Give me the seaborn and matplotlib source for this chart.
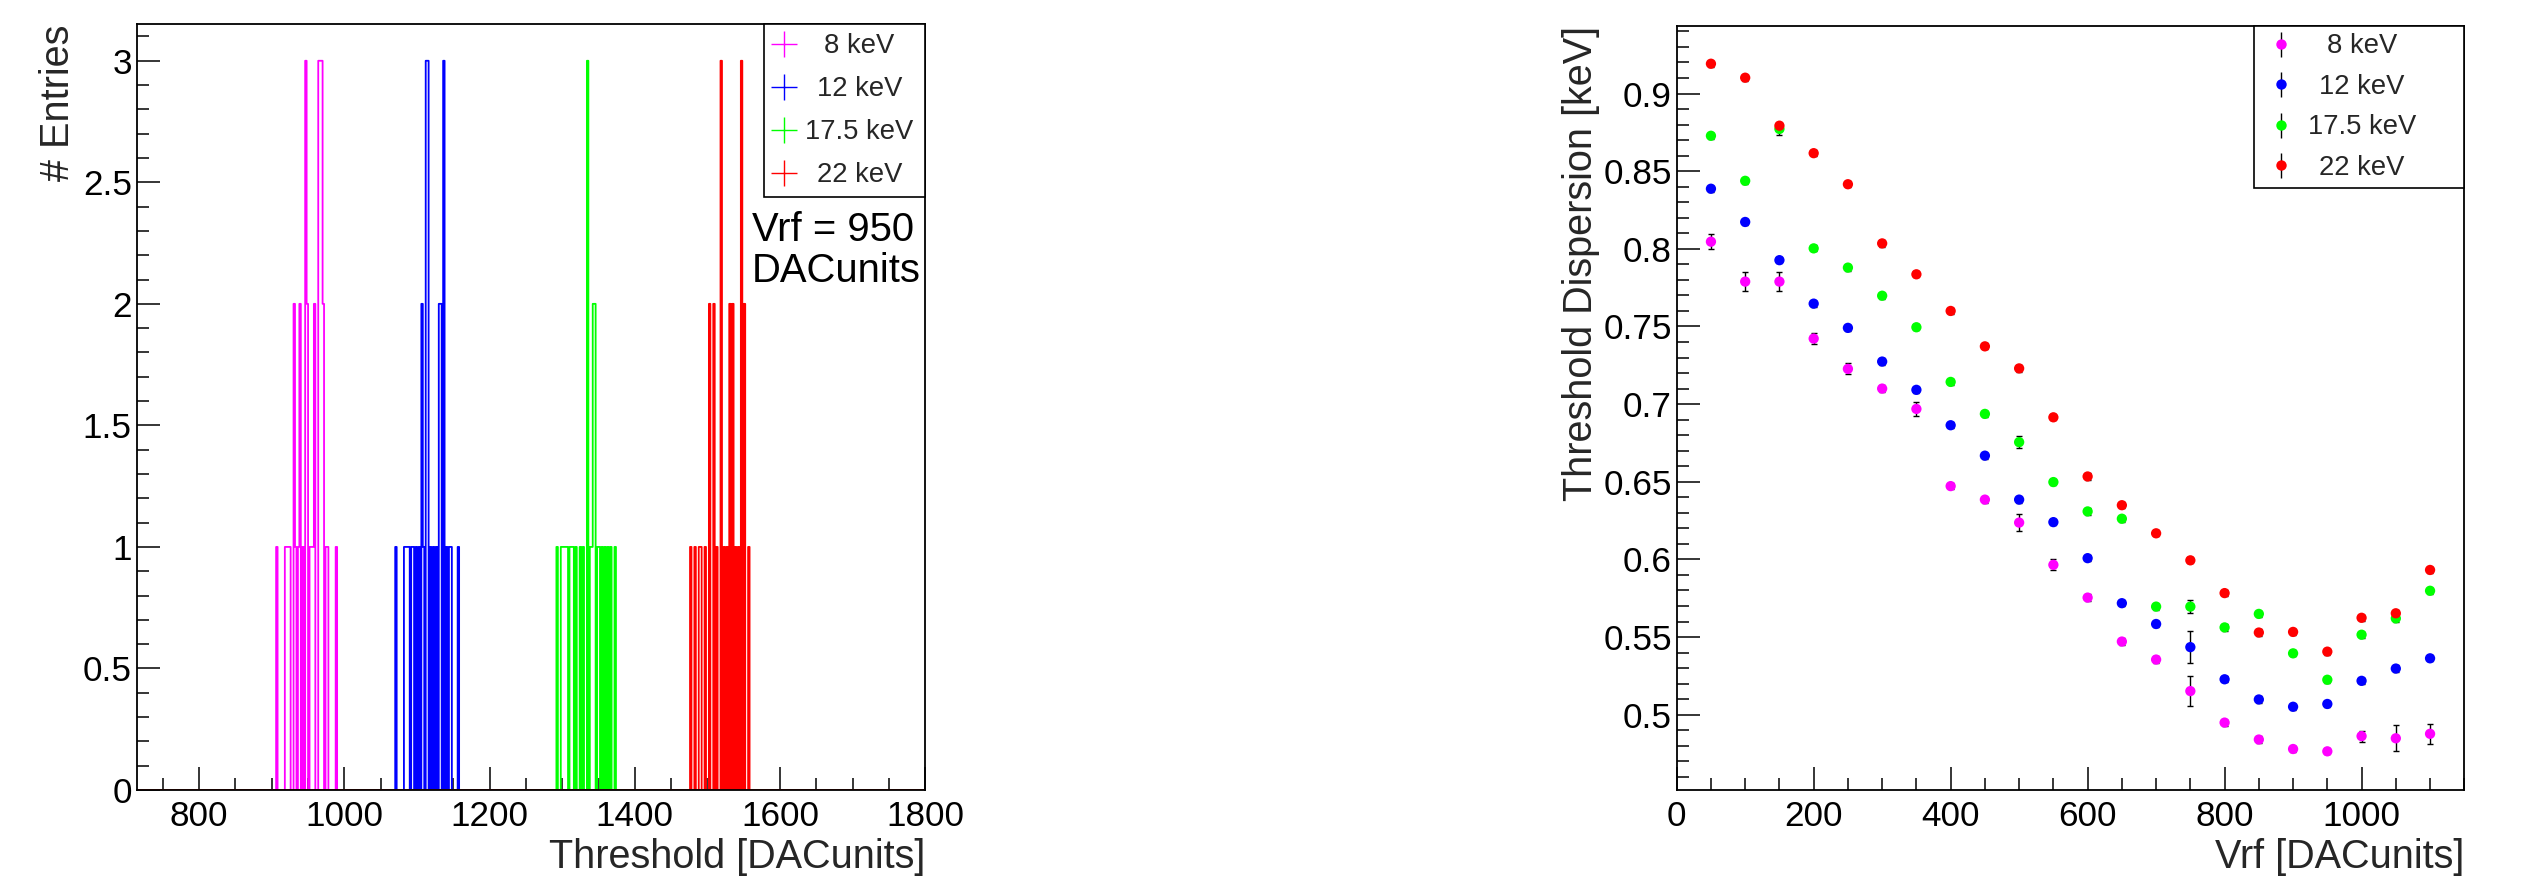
import numpy as np
import pandas as pd
import matplotlib
matplotlib.use("Agg")
import matplotlib.pyplot as plt
import seaborn as sns
from matplotlib.lines import Line2D
from matplotlib.ticker import MultipleLocator, FuncFormatter
from matplotlib.legend_handler import HandlerTuple

sns.set_theme(style="white")
plt.rcParams['font.family'] = ['Liberation Sans', 'DejaVu Sans']

# ---------------- data ----------------
energies = ["8 keV", "12 keV", "17.5 keV", "22 keV"]
colors = ["#ff00ff", "#0000ff", "#00ff00", "#ff0000"]

# Left panel: per-pixel thresholds [DAC units] at Vrf = 950
thr_8 = [907, 919, 921, 923, 925, 931, 931, 933, 937, 939, 939, 943, 947, 947, 947,
         949, 949, 953, 955, 957, 959, 959, 965, 965, 965, 967, 967, 967, 969, 969,
         969, 971, 971, 975, 977, 989]
thr_12 = [1071, 1083, 1085, 1087, 1089, 1093, 1095, 1099, 1103, 1107, 1107, 1109,
          1113, 1113, 1113, 1115, 1115, 1115, 1119, 1123, 1127, 1131, 1131, 1133,
          1133, 1137, 1137, 1137, 1141, 1145, 1147, 1157]
thr_17 = [1293, 1299, 1301, 1303, 1305, 1307, 1311, 1313, 1315, 1319, 1325, 1329,
          1335, 1335, 1335, 1339, 1341, 1343, 1343, 1345, 1345, 1349, 1351, 1355,
          1359, 1363, 1367, 1373]
thr_22 = [1477, 1483, 1489, 1491, 1497, 1503, 1503, 1509, 1509, 1513, 1519, 1519,
          1519, 1523, 1527, 1531, 1531, 1535, 1535, 1539, 1543, 1547, 1547, 1547,
          1551, 1551, 1557]
thresholds = [thr_8, thr_12, thr_17, thr_22]

# Right panel: threshold dispersion vs Vrf
vrf = [50, 100, 150, 200, 250, 300, 350, 400, 450, 500, 550,
       600, 650, 700, 750, 800, 850, 900, 950, 1000, 1050, 1100]
disp_8 = [0.8046, 0.7789, 0.7789, 0.7422, 0.7227, 0.7100, 0.6969, 0.6472, 0.6385, 0.6237, 0.5965,
          0.5754, 0.5471, 0.5355, 0.5152, 0.4949, 0.4840, 0.4779, 0.4764, 0.4862, 0.4848, 0.4877]
err_8 = [0.0047, 0.0063, 0.0060, 0.0035, 0.0035, 0.0020, 0.0045, 0.0020, 0.0020, 0.0055, 0.0035,
         0.0020, 0.0020, 0.0020, 0.0095, 0.0020, 0.0020, 0.0020, 0.0020, 0.0035, 0.0083, 0.0063]
disp_12 = [0.8387, 0.8173, 0.7927, 0.7647, 0.7491, 0.7274, 0.7092, 0.6864, 0.6668, 0.6385, 0.6240,
           0.6008, 0.5718, 0.5584, 0.5435, 0.5228, 0.5098, 0.5051, 0.5069, 0.5218, 0.5297, 0.5363]
err_12 = [0.0020, 0.0020, 0.0020, 0.0020, 0.0020, 0.0020, 0.0020, 0.0020, 0.0020, 0.0020, 0.0020,
          0.0020, 0.0020, 0.0020, 0.0105, 0.0020, 0.0020, 0.0020, 0.0020, 0.0020, 0.0020, 0.0020]
disp_17 = [0.8728, 0.8438, 0.8772, 0.8003, 0.7879, 0.7698, 0.7495, 0.7143, 0.6937, 0.6755, 0.6498,
           0.6309, 0.6262, 0.5696, 0.5696, 0.5562, 0.5649, 0.5395, 0.5225, 0.5515, 0.5620, 0.5798]
err_17 = [0.0020, 0.0020, 0.0040, 0.0020, 0.0020, 0.0020, 0.0020, 0.0020, 0.0020, 0.0040, 0.0020,
          0.0020, 0.0020, 0.0020, 0.0040, 0.0020, 0.0020, 0.0020, 0.0020, 0.0020, 0.0020, 0.0020]
disp_22 = [0.9192, 0.9102, 0.8793, 0.8616, 0.8416, 0.8035, 0.7836, 0.7600, 0.7372, 0.7230, 0.6915,
           0.6534, 0.6349, 0.6168, 0.5994, 0.5783, 0.5529, 0.5533, 0.5406, 0.5624, 0.5653, 0.5932]
err_22 = [0.0020] * 22
dispersions = [disp_8, disp_12, disp_17, disp_22]
errors = [err_8, err_12, err_17, err_22]

# ---------------- figure ----------------
W, H = 2529, 883
fig = plt.figure(figsize=(W / 100, H / 100), dpi=100)

def px_axes(x0, x1, ytop, ybot):
    return fig.add_axes([x0 / W, (H - ybot) / H, (x1 - x0) / W, (ybot - ytop) / H])

axL = px_axes(136.7, 925.3, 24.3, 790)
axR = px_axes(1676.7, 2464.3, 26, 790)

TICK_FS = 25.3
LABEL_FS = 28.5
LEG_FS = 19.7

def style_axes(ax):
    for s in ax.spines.values():
        s.set_visible(True)
        s.set_color("black")
        s.set_linewidth(1.3)
    ax.tick_params(which="both", direction="in", top=False, right=False,
                   bottom=True, left=True, colors="black", width=1.1,
                   labelsize=TICK_FS)
    ax.tick_params(which="major", length=16.5)
    ax.tick_params(which="minor", length=8.6)
    ax.tick_params(axis="x", pad=7)
    ax.tick_params(axis="y", pad=3.5)
    ax.grid(False)
    ax.set_facecolor("white")

fmt = FuncFormatter(lambda v, p: f"{v:g}")

# ----- left: histograms -----
binw = 2
for vals, c, lab in zip(thresholds, colors, energies):
    sns.histplot(x=vals, binwidth=binw, binrange=(714, 1800), element="step",
                 fill=False, color=c, linewidth=1.3, ax=axL)
axL.set_xlim(714, 1800)
axL.set_ylim(0, 3.15)
axL.xaxis.set_major_locator(MultipleLocator(200))
axL.xaxis.set_minor_locator(MultipleLocator(50))
axL.yaxis.set_major_locator(MultipleLocator(0.5))
axL.yaxis.set_minor_locator(MultipleLocator(0.1))
axL.yaxis.set_major_formatter(fmt)
style_axes(axL)
axL.set_xlabel("Threshold [DACunits]", fontsize=LABEL_FS, loc="right", labelpad=4)
axL.set_ylabel("# Entries", fontsize=LABEL_FS, loc="top", labelpad=4)

handlesL = [Line2D([], [], color=c, marker="+", markersize=19, mew=1.0,
                   linestyle="None") for c in colors]
legL = axL.legend(handlesL, energies, loc="upper right",
                  bbox_to_anchor=(0.7955, 0.7745, 0.2045, 0.2255), mode="expand",
                  borderaxespad=0, fontsize=LEG_FS, frameon=True, fancybox=False,
                  edgecolor="black", framealpha=1, labelspacing=0.62,
                  handlelength=0.8, handletextpad=0.37, borderpad=0.33)
legL.get_frame().set_linewidth(1.2)

axL.text(0.780, 0.7045, "Vrf = 950\nDACunits", transform=axL.transAxes,
         ha="left", va="center", fontsize=28.8, linespacing=1.1, color="black")

# ----- right: dispersion vs Vrf -----
rows = []
for e, d in zip(energies, dispersions):
    for v, y in zip(vrf, d):
        rows.append({"Vrf": v, "disp": y, "energy": e})
df = pd.DataFrame(rows)

for d, er in zip(dispersions, errors):
    axR.errorbar(vrf, d, yerr=er, fmt="none", ecolor="black", elinewidth=1.0,
                 capsize=2.2, capthick=1.0, zorder=2)
sns.scatterplot(data=df, x="Vrf", y="disp", hue="energy", hue_order=energies,
                palette=colors, s=55, edgecolor="none", legend=False, zorder=3, ax=axR)
axR.set_xlim(0, 1150)
axR.set_ylim(0.4515, 0.9435)
axR.xaxis.set_major_locator(MultipleLocator(200))
axR.xaxis.set_minor_locator(MultipleLocator(50))
axR.yaxis.set_major_locator(MultipleLocator(0.05))
axR.yaxis.set_minor_locator(MultipleLocator(0.01))
axR.yaxis.set_major_formatter(fmt)
style_axes(axR)
axR.set_xlabel("Vrf [DACunits]", fontsize=LABEL_FS, loc="right", labelpad=4)
axR.set_ylabel("Threshold Dispersion [keV]", fontsize=LABEL_FS, loc="top", labelpad=2)

handlesR = [(Line2D([], [], color="black", marker="|", markersize=18, mew=1.0, linestyle="None"),
             Line2D([], [], color=c, marker="o", markersize=7.5, mew=0, linestyle="None"))
            for c in colors]
legR = axR.legend(handlesR, energies, loc="upper right",
                  bbox_to_anchor=(0.733, 0.789, 0.267, 0.211), mode="expand",
                  borderaxespad=0, fontsize=LEG_FS, frameon=True, fancybox=False,
                  edgecolor="black", framealpha=1, labelspacing=0.53,
                  handlelength=1.42, handletextpad=0.27, borderpad=0.27,
                  handler_map={tuple: HandlerTuple(ndivide=1)})
legR.get_frame().set_linewidth(1.2)

# centre legend texts within the text column (ROOT style)
fig.canvas.draw()
renderer = fig.canvas.get_renderer()
for leg in (legL, legR):
    texts = leg.get_texts()
    widths = [t.get_window_extent(renderer).width for t in texts]
    wmax = max(widths)
    for t, w in zip(texts, widths):
        t.set_x((wmax - w) / 2)

fig.savefig("out.png", dpi=100, facecolor="white")
